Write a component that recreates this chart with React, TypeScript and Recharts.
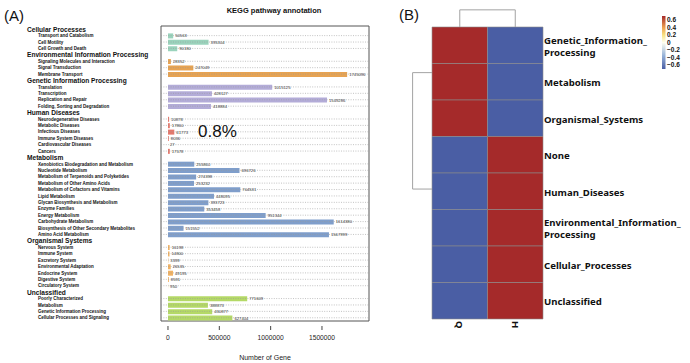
import React from 'react';
import {
  BarChart, Bar, XAxis, YAxis, Cell, LabelList, ReferenceLine, ReferenceArea, Label, ComposedChart,
} from 'recharts';

// ---------- Panel A data ----------
const groupNames = [
  'Cellular Processes',
  'Environmental Information Processing',
  'Genetic Information Processing',
  'Human Diseases',
  'Metabolism',
  'Organismal Systems',
  'Unclassified',
];
const groupColors = ['#9ad3bc', '#e7a352', '#b3acd8', '#e5786c', '#7f9ecb', '#f1b263', '#b4d966'];

const cellularLabels = ['Transport and Catabolism', 'Cell Motility', 'Cell Growth and Death'];
const cellularValues = [50563, 395304, 90180];

const envLabels = ['Signaling Molecules and Interaction', 'Signal Transduction', 'Membrane Transport'];
const envValues = [28352, 247049, 1745096];

const geneticLabels = ['Translation', 'Transcription', 'Replication and Repair', 'Folding, Sorting and Degradation'];
const geneticValues = [1015125, 428127, 1549286, 418884];

const humanLabels = [
  'Neurodegenerative Diseases', 'Metabolic Diseases', 'Infectious Diseases',
  'Immune System Diseases', 'Cardiovascular Diseases', 'Cancers',
];
const humanValues = [10878, 17860, 61773, 8036, 27, 17578];

const metabolismLabels = [
  'Xenobiotics Biodegradation and Metabolism', 'Nucleotide Metabolism',
  'Metabolism of Terpenoids and Polyketides', 'Metabolism of Other Amino Acids',
  'Metabolism of Cofactors and Vitamins', 'Lipid Metabolism',
  'Glycan Biosynthesis and Metabolism', 'Enzyme Families', 'Energy Metabolism',
  'Carbohydrate Metabolism', 'Biosynthesis of Other Secondary Metabolites', 'Amino Acid Metabolism',
];
const metabolismValues = [255860, 696726, 274398, 253232, 704531, 448095, 393723, 353458, 951344, 1614380, 151552, 1567999];

const organismalLabels = [
  'Nervous System', 'Immune System', 'Excretory System', 'Environmental Adaptation',
  'Endocrine System', 'Digestive System', 'Circulatory System',
];
const organismalValues = [16198, 14800, 3399, 26535, 49195, 8591, 950];

const unclassifiedLabels = ['Poorly Characterized', 'Metabolism', 'Genetic Information Processing', 'Cellular Processes and Signaling'];
const unclassifiedValues = [771609, 388873, 430877, 627404];

const groupLabels = [cellularLabels, envLabels, geneticLabels, humanLabels, metabolismLabels, organismalLabels, unclassifiedLabels];
const groupValues = [cellularValues, envValues, geneticValues, humanValues, metabolismValues, organismalValues, unclassifiedValues];

const xTicks = [0, 500000, 1000000, 1500000];
const xDomain = [-68000, 1958000];

type Row = { id: string; label: string; header: boolean; value: number | null; color: string };
const rows: Row[] = [];
groupNames.forEach((g, gi) => {
  rows.push({ id: `h${gi}`, label: g, header: true, value: null, color: groupColors[gi] });
  groupLabels[gi].forEach((l, j) => {
    rows.push({ id: `g${gi}_${j}`, label: l, header: false, value: groupValues[gi][j], color: groupColors[gi] });
  });
});
const rowById: Record<string, Row> = {};
rows.forEach((r) => { rowById[r.id] = r; });

// ---------- Panel B data ----------
const heatRowLabels = [
  ['Genetic_Information_', 'Processing'],
  ['Metabolism'],
  ['Organismal_Systems'],
  ['None'],
  ['Human_Diseases'],
  ['Environmental_Information_', 'Processing'],
  ['Cellular_Processes'],
  ['Unclassified'],
];
const heatColumns = ['Q', 'H'];
const qValues = [0.707, 0.707, 0.707, -0.707, -0.707, -0.707, -0.707, -0.707];
const hValues = [-0.707, -0.707, -0.707, 0.707, 0.707, 0.707, 0.707, 0.707];
const heatValues = [qValues, hValues];

// dendrograms (leaf positions / merge heights in cell units)
const colDendro = { left: 0.5, right: 1.5, height: 0.47 };
const rowDendro = { top: 1.25, bottom: 4.44, height: 0.35 };

const legendTicks = [0.6, 0.4, 0.2, 0, -0.2, -0.4, -0.6];
const colorStops = [
  { v: -0.707, c: [74, 94, 164] },
  { v: -0.35, c: [150, 178, 216] },
  { v: 0, c: [255, 255, 240] },
  { v: 0.2, c: [248, 226, 130] },
  { v: 0.4, c: [238, 160, 80] },
  { v: 0.707, c: [165, 42, 42] },
];

function colorScale(v: number): string {
  const s = colorStops;
  if (v <= s[0].v) return `rgb(${s[0].c.join(',')})`;
  for (let i = 1; i < s.length; i++) {
    if (v <= s[i].v) {
      const t = (v - s[i - 1].v) / (s[i].v - s[i - 1].v);
      const c = s[i - 1].c.map((a, k) => Math.round(a + (s[i].c[k] - a) * t));
      return `rgb(${c.join(',')})`;
    }
  }
  return `rgb(${s[s.length - 1].c.join(',')})`;
}

const BarYTick = (props: any) => {
  const row = rowById[props.payload?.value];
  if (!row) return null;
  if (row.header) {
    return (
      <text x={27} y={props.y} dy="0.36em" fontSize={6.6} fontWeight="bold" style={{ fill: '#111' }}>{row.label}</text>
    );
  }
  return (
    <text x={38} y={props.y} dy="0.36em" fontSize={4.5} fontWeight="bold" style={{ fill: '#111' }}>{row.label}</text>
  );
};

const HeatYTick = (props: any) => {
  const idx = Math.round(props.payload.value - 0.5);
  const lines = heatRowLabels[idx];
  if (!lines) return null;
  const lh = 12;
  const y0 = props.y + 1 - ((lines.length - 1) * lh) / 2;
  return (
    <text x={props.x} y={y0} fontSize={9.6} fontWeight="bold" style={{ fill: '#111' }} fontFamily="'Noto Sans', sans-serif">
      {lines.map((l, i) => (
        <tspan key={i} x={props.x} y={y0 + i * lh} dy="0.36em">{l}</tspan>
      ))}
    </text>
  );
};

const HeatXTick = (props: any) => {
  const idx = Math.round(props.payload.value - 0.5);
  const label = heatColumns[idx];
  return (
    <text x={props.x} y={props.y} transform={`rotate(90, ${props.x}, ${props.y})`} textAnchor="start"
      dominantBaseline="central" fontSize={9.5} fontWeight="bold" style={{ fill: '#111' }} fontFamily="'Noto Sans', sans-serif">
      {label}
    </text>
  );
};

export default function App() {
  const legendTop = 16;
  const legendBottom = 69;
  const legendMax = 0.707;
  const legendY = (v: number) => legendTop + ((legendMax - v) / (2 * legendMax)) * (legendBottom - legendTop);

  return (
    <div style={{ position: 'absolute', left: 0, top: 0, width: 690, height: 363, background: '#fff', fontFamily: "'Liberation Sans', Arial, sans-serif" }}>
      <div style={{ position: 'absolute', left: 0, top: 0 }}>
        <BarChart
          width={390}
          height={363}
          data={rows}
          layout="vertical"
          margin={{ top: 25, right: 21, bottom: 0, left: 0 }}
        >
          <XAxis
            type="number"
            domain={xDomain}
            allowDataOverflow
            ticks={xTicks}
            interval={0}
            height={37}
            axisLine={false}
            tickSize={4}
            tickMargin={5}
            tickLine={{ stroke: '#444' }}
            tick={{ fontSize: 6.7, fill: '#222' }}
          >
            <Label value="Number of Gene" position="insideBottom" offset={3} fontSize={7} fill="#222" />
          </XAxis>
          <YAxis
            type="category"
            dataKey="id"
            width={161}
            axisLine={false}
            tickLine={false}
            interval={0}
            padding={{ top: 1, bottom: 5 }}
            tick={<BarYTick />}
          />
          {rows.filter((r) => !r.header).map((r) => (
            <ReferenceLine key={r.id} y={r.id} stroke="#9a9a9a" strokeWidth={0.6} strokeDasharray="1 1.4" />
          ))}
          <Bar dataKey="value" barSize={5} isAnimationActive={false}>
            {rows.map((r) => (
              <Cell key={r.id} fill={r.color} />
            ))}
            <LabelList dataKey="value" position="right" offset={2} fontSize={4.2} fill="#333" />
          </Bar>
          <ReferenceArea x1={xDomain[0]} x2={xDomain[1]} fill="none" fillOpacity={0} stroke="#555" strokeWidth={1} />
        </BarChart>
      </div>

      <div style={{ position: 'absolute', left: 390, top: 0 }}>
        <ComposedChart width={300} height={363} data={heatRowLabels.map((l, i) => ({ i }))} margin={{ top: 9.85, right: 0, bottom: 0, left: 22.6 }}>
          <XAxis type="number" dataKey="i" domain={[-rowDendro.height, 2]} allowDataOverflow ticks={[0.5, 1.5]} interval={0}
            height={44} axisLine={false} tickLine={false} tickSize={0} tickMargin={2} tick={<HeatXTick />} />
          <YAxis type="number" domain={[-colDendro.height, 8]} allowDataOverflow reversed orientation="right" ticks={[0.5, 1.5, 2.5, 3.5, 4.5, 5.5, 6.5, 7.5]}
            interval={0} width={147} axisLine={false} tickLine={false} tickSize={0} tickMargin={1} tick={<HeatYTick />} />
          {heatValues.map((col, ci) =>
            col.map((v, ri) => (
              <ReferenceArea key={`${ci}-${ri}`} x1={ci} x2={ci + 1} y1={ri} y2={ri + 1}
                fill={colorScale(v)} fillOpacity={1} stroke="#8c8c8c" strokeWidth={0.6} ifOverflow="visible" />
            ))
          )}
          <ReferenceLine segment={[{ x: colDendro.left, y: 0 }, { x: colDendro.left, y: -colDendro.height }]} stroke="#a3a3a3" strokeWidth={1} ifOverflow="visible" />
          <ReferenceLine segment={[{ x: colDendro.left, y: -colDendro.height }, { x: colDendro.right, y: -colDendro.height }]} stroke="#a3a3a3" strokeWidth={1} ifOverflow="visible" />
          <ReferenceLine segment={[{ x: colDendro.right, y: -colDendro.height }, { x: colDendro.right, y: 0 }]} stroke="#a3a3a3" strokeWidth={1} ifOverflow="visible" />
          <ReferenceLine segment={[{ x: 0, y: rowDendro.top }, { x: -rowDendro.height, y: rowDendro.top }]} stroke="#a3a3a3" strokeWidth={1} ifOverflow="visible" />
          <ReferenceLine segment={[{ x: -rowDendro.height, y: rowDendro.top }, { x: -rowDendro.height, y: rowDendro.bottom }]} stroke="#a3a3a3" strokeWidth={1} ifOverflow="visible" />
          <ReferenceLine segment={[{ x: -rowDendro.height, y: rowDendro.bottom }, { x: 0, y: rowDendro.bottom }]} stroke="#a3a3a3" strokeWidth={1} ifOverflow="visible" />
        </ComposedChart>
      </div>

      <svg width={690} height={363} style={{ position: 'absolute', left: 0, top: 0, pointerEvents: 'none' }}>
        <defs>
          <linearGradient id="legendGrad" x1="0" y1="0" x2="0" y2="1">
            {colorStops.slice().reverse().map((s, i) => (
              <stop key={i} offset={`${((legendMax - s.v) / (2 * legendMax)) * 100}%`} stopColor={`rgb(${s.c.join(',')})`} />
            ))}
          </linearGradient>
        </defs>
        <text x={4} y={16} dy="0.36em" fontSize={15} fill="#111">(A)</text>
        <text x={399} y={14.5} dy="0.36em" fontSize={15} fill="#111">(B)</text>
        <text x={274} y={10} dy="0.36em" textAnchor="middle" fontSize={7.5} fontWeight="bold" fill="#111">KEGG pathway annotation</text>
        <text x={198} y={131} dy="0.36em" fontSize={17} fill="#111">0.8%</text>
        <rect x={662} y={legendTop} width={3.5} height={legendBottom - legendTop} fill="url(#legendGrad)" />
        {legendTicks.map((t) => (
          <text key={t} x={667} y={legendY(t)} dy="0.36em" fontSize={6.5} fontWeight="bold" fill="#111">
            {t < 0 ? `\u2212${Math.abs(t)}` : `${t}`}
          </text>
        ))}
      </svg>
    </div>
  );
}
